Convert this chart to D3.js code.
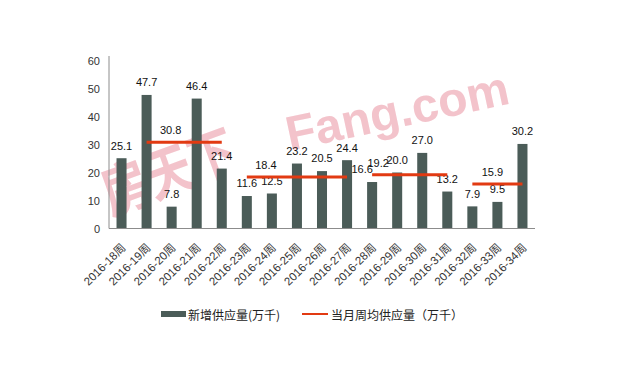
<!DOCTYPE html>
<html>
<head>
<meta charset="utf-8">
<script src="https://cdn.jsdelivr.net/npm/d3@7"></script>
<style>
  html, body { margin: 0; padding: 0; background: #fff; }
  svg { display: block; }
  text { font-family: "Liberation Sans", Arial, "Noto Sans CJK SC", sans-serif; }
</style>
</head>
<body>
<svg id="chart" width="620" height="379"></svg>
<script>
// ---- data ----
const categories = ["2016-18周","2016-19周","2016-20周","2016-21周","2016-22周","2016-23周","2016-24周","2016-25周","2016-26周","2016-27周","2016-28周","2016-29周","2016-30周","2016-31周","2016-32周","2016-33周","2016-34周"];
const supplyValues = [25.1, 47.7, 7.8, 46.4, 21.4, 11.6, 12.5, 23.2, 20.5, 24.4, 16.6, 20.0, 27.0, 13.2, 7.9, 9.5, 30.2];
// monthly weekly-average supply
const monthStart = ["2016-19周","2016-23周","2016-28周","2016-32周"];
const monthEnd   = ["2016-22周","2016-27周","2016-31周","2016-34周"];
const monthAvg   = [30.8, 18.4, 19.2, 15.9];
const monthLabelAt = ["2016-20周","2016-24周","2016-28周","2016-33周"];
const yTicks = [0, 10, 20, 30, 40, 50, 60];
const seriesNames = ["新增供应量(万千)", "当月周均供应量（万千）"];
const watermarkCJK = "房天下";
const watermarkLatin = "Fang.com";

const barColor = "#4b5c58";
const lineColor = "#e23a12";
const wmColor = "#f3c3cb";

const svg = d3.select("#chart");

// watermark (behind marks)
svg.append("text")
  .attr("transform", "translate(124,184) rotate(-20) scale(1.05,1.3)")
  .attr("x", -22).attr("y", 0)
  .attr("dominant-baseline", "central")
  .attr("font-size", 44)
  .attr("font-weight", "bold")
  .attr("fill", wmColor)
  .style("font-family", "'Noto Sans CJK SC', sans-serif")
  .text(watermarkCJK);
svg.append("text")
  .attr("transform", "translate(300,131) rotate(-12)")
  .attr("x", -14).attr("y", 17)
  .attr("font-size", 48)
  .attr("font-weight", "bold")
  .attr("fill", wmColor)
  .style("font-family", "'Liberation Sans', Arial, sans-serif")
  .text(watermarkLatin);

const x = d3.scaleBand().domain(categories).range([109, 535]).paddingInner(0.6).paddingOuter(0.3);
const y = d3.scaleLinear().domain([0, 60]).range([228.5, 60.5]);
const cx = d => x(d) + x.bandwidth() / 2;

// bars
svg.append("g").selectAll("rect").data(categories).join("rect")
  .attr("x", d => x(d))
  .attr("y", (d, i) => y(supplyValues[i]))
  .attr("width", x.bandwidth())
  .attr("height", (d, i) => y(0) - y(supplyValues[i]))
  .attr("fill", barColor);

// axes
const yAxis = svg.append("g").attr("transform", "translate(109,0)")
  .call(d3.axisLeft(y).tickValues(yTicks).tickSize(0).tickPadding(9));
yAxis.select(".domain").attr("stroke", "#8c8c8c").attr("d", "M0,56V228.5");
yAxis.selectAll("text").attr("font-size", 11).attr("fill", "#333")
  .style("font-family", "'Liberation Sans', Arial, sans-serif");

const xAxis = svg.append("g").attr("transform", "translate(0,228.5)")
  .call(d3.axisBottom(x).tickSize(0).tickFormat(""));
xAxis.select(".domain").attr("stroke", "#8c8c8c").attr("d", "M109,0H535");

// x labels rotated
svg.append("g").selectAll("text").data(categories).join("text")
  .attr("transform", d => `translate(${cx(d) + 2},${y(0) + 17}) rotate(-45)`)
  .attr("text-anchor", "end")
  .attr("dy", "0.35em")
  .attr("font-size", 11.5)
  .attr("fill", "#333")
  .text(d => d);

// bar value labels
const labelDx = categories.map(d => d === "2016-28周" ? -10 : 0);
svg.append("g").selectAll("text").data(categories).join("text")
  .attr("x", (d, i) => cx(d) + labelDx[i])
  .attr("y", (d, i) => y(supplyValues[i]) - 12.5)
  .attr("dy", "0.35em")
  .attr("text-anchor", "middle")
  .attr("font-size", 11)
  .attr("fill", "#111")
  .text((d, i) => supplyValues[i].toFixed(1));

// monthly average lines
const line = d3.line().x(d => d[0]).y(d => d[1]);
monthAvg.forEach((v, i) => {
  svg.append("path")
    .attr("d", line([[cx(monthStart[i]), y(v)], [cx(monthEnd[i]), y(v)]]))
    .attr("stroke", lineColor)
    .attr("stroke-width", 3.2)
    .attr("fill", "none");
});
const avgLabelDx = [-1, -6, 6, -5];
svg.append("g").selectAll("text").data(monthAvg).join("text")
  .attr("x", (v, i) => cx(monthLabelAt[i]) + avgLabelDx[i])
  .attr("y", v => y(v) - 12)
  .attr("dy", "0.35em")
  .attr("text-anchor", "middle")
  .attr("font-size", 11)
  .attr("fill", "#111")
  .text(v => v.toFixed(1));

// legend
const lg = svg.append("g");
lg.append("rect").attr("x", 161).attr("y", 311).attr("width", 25).attr("height", 6).attr("fill", barColor);
lg.append("text").attr("x", 188).attr("y", 316).attr("dy", "0.35em")
  .attr("font-size", 12).attr("fill", "#222")
  .style("font-family", "'Noto Sans CJK SC', sans-serif")
  .text(seriesNames[0]);
lg.append("line").attr("x1", 302).attr("x2", 328).attr("y1", 314).attr("y2", 314)
  .attr("stroke", lineColor).attr("stroke-width", 2);
lg.append("text").attr("x", 331).attr("y", 316).attr("dy", "0.35em")
  .attr("font-size", 12).attr("fill", "#222")
  .style("font-family", "'Noto Sans CJK SC', sans-serif")
  .text(seriesNames[1]);
</script>
</body>
</html>
